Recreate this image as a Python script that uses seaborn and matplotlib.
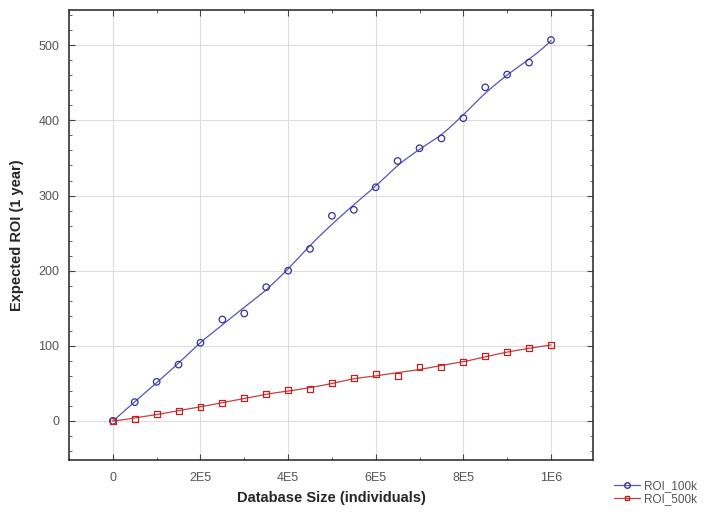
from matplotlib import pyplot as plt
from matplotlib.ticker import MultipleLocator
from matplotlib.lines import Line2D
import numpy as np
import pandas as pd
import seaborn as sb

# database size (individuals)
db_size = [0, 5e4, 1e5, 1.5e5, 2e5, 2.5e5, 3e5, 3.5e5, 4e5, 4.5e5, 5e5,
           5.5e5, 6e5, 6.5e5, 7e5, 7.5e5, 8e5, 8.5e5, 9e5, 9.5e5, 1e6]
roi_100k = [0, 25, 52, 75, 104, 135, 143, 178, 200, 229, 273,
            281, 311, 346, 363, 376, 403, 444, 461, 477, 507]
roi_500k = [0, 3, 9, 13, 19, 24, 30, 36, 41, 42, 50,
            57, 62, 60, 72, 72, 78, 86, 92, 97, 101]
x_ticks = [0, 2e5, 4e5, 6e5, 8e5, 1e6]
x_tick_labels = ["0", "2E5", "4E5", "6E5", "8E5", "1E6"]


def smooth(x, y, bw=1.2e5, n=200):
    # local linear fit with tricube weights (like a distance weighted LS fit)
    x = np.asarray(x, float)
    y = np.asarray(y, float)
    gx = np.linspace(x.min(), x.max(), n)
    gy = []
    for g in gx:
        d = np.abs(x - g) / bw
        w = np.where(d < 1, (1 - d ** 3) ** 3, 0)
        A = np.vstack([np.ones_like(x), x - g]).T
        W = np.diag(w)
        beta = np.linalg.lstsq(A.T @ W @ A, A.T @ W @ y, rcond=None)[0]
        gy.append(beta[0])
    return gx, np.array(gy)


sb.set_style("ticks")
plt.rcParams["font.family"] = ["Liberation Sans", "DejaVu Sans"]

df = pd.DataFrame({"size": db_size, "ROI_100k": roi_100k, "ROI_500k": roi_500k})

fig = plt.figure(figsize=(7.08, 5.12), dpi=100)
ax = fig.add_axes([0.0975, 0.1016, 0.7401, 0.8789])

blue_line = "#5555b5"
blue_mk = "#33339a"
red_line = "#c24040"
red_mk = "#c02020"

sx, sy = smooth(db_size, roi_100k)
sb.lineplot(x=sx, y=sy, ax=ax, color=blue_line, lw=0.9)
sx, sy = smooth(db_size, roi_500k)
sb.lineplot(x=sx, y=sy, ax=ax, color=red_line, lw=0.9)

sb.scatterplot(data=df, x="size", y="ROI_100k", ax=ax, marker="o", s=22,
               facecolor="none", edgecolor=blue_mk, linewidth=0.9, zorder=3)
sb.scatterplot(data=df, x="size", y="ROI_500k", ax=ax, marker="s", s=18,
               facecolor="none", edgecolor=red_mk, linewidth=0.9, zorder=3)

ax.set_xlim(-1.0e5, 1.096e6)
ax.set_ylim(-52, 547)
ax.set_xticks(x_ticks)
ax.set_xticklabels(x_tick_labels)
ax.set_yticks([0, 100, 200, 300, 400, 500])
ax.xaxis.set_minor_locator(MultipleLocator(1e5))
ax.yaxis.set_minor_locator(MultipleLocator(20))
ax.grid(True, which="major", color="#dddddd", lw=0.8)
ax.tick_params(which="both", direction="in", top=True, right=True,
               colors="#444444", labelcolor="#555555", labelsize=9)
ax.tick_params(which="major", length=4)
ax.tick_params(which="minor", length=2)
ax.tick_params(axis="x", pad=9)
ax.tick_params(axis="y", pad=7)
for s in ax.spines.values():
    s.set_color("#333333")
    s.set_linewidth(1.2)

ax.set_xlabel("Database Size (individuals)", fontsize=10.5, fontweight="bold", labelpad=5)
ax.set_ylabel("Expected ROI (1 year)", fontsize=10.5, fontweight="bold", labelpad=10)

h = [Line2D([], [], color=blue_line, lw=0.9, marker="o", markersize=4,
            markerfacecolor="none", markeredgecolor=blue_mk),
     Line2D([], [], color=red_line, lw=0.9, marker="s", markersize=3.5,
            markerfacecolor="none", markeredgecolor=red_mk)]
fig.legend(h, ["ROI_100k", "ROI_500k"], loc="lower right",
           bbox_to_anchor=(1.0, -0.008), frameon=False,
           fontsize=8.5, handlelength=2.2, labelspacing=0.15, handletextpad=0.4,
           labelcolor="#555555")

fig.savefig("out.png", dpi=100)
